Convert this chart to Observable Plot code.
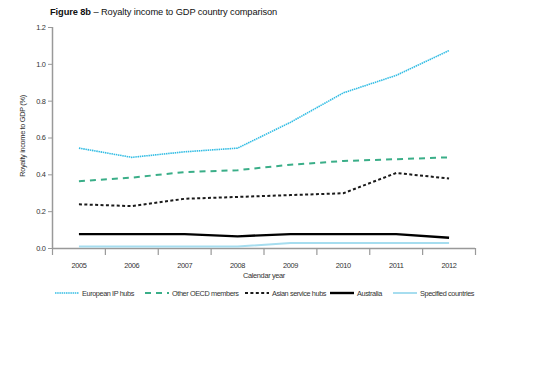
<!DOCTYPE html>
<html>
<head>
<meta charset="utf-8">
<script src="https://cdn.jsdelivr.net/npm/d3@7"></script>
<script src="https://cdn.jsdelivr.net/npm/@observablehq/plot@0.6"></script>
<style>
  body { margin: 0; background: #fff; font-family: "Liberation Sans", Arial, sans-serif; }
  #wrap { position: relative; width: 540px; height: 371px; }
  #title { position: absolute; left: 50px; top: 7px; font-family: "Liberation Sans", Arial, sans-serif; font-size: 9.3px; color: #111; white-space: nowrap; letter-spacing: -0.1px; }
  #chart { position: absolute; left: 0; top: 0; }
  #chart svg text { letter-spacing: -0.35px; }
  #legend { position: absolute; left: 0; top: 287px; width: 540px; height: 12px; font-size: 7.3px; color: #333; letter-spacing: -0.4px; }
  .item { position: absolute; top: 0; display: flex; align-items: center; height: 12px; white-space: nowrap; }
  .item svg { margin-right: 3px; }
</style>
</head>
<body>
<div id="wrap">
  <div id="title"><b>Figure 8b</b> – Royalty income to GDP country comparison</div>
  <div id="chart"></div>
  <div id="legend"></div>
</div>
<script>
const years = [2005, 2006, 2007, 2008, 2009, 2010, 2011, 2012];
const seriesNames = ["European IP hubs", "Other OECD members", "Asian service hubs", "Australia", "Specified countries"];
const europeanIPHubs   = [0.545, 0.495, 0.525, 0.545, 0.685, 0.845, 0.94, 1.075];
const otherOECD        = [0.365, 0.385, 0.415, 0.425, 0.455, 0.475, 0.485, 0.495];
const asianServiceHubs = [0.24, 0.23, 0.27, 0.28, 0.29, 0.30, 0.41, 0.38];
const australia        = [0.078, 0.078, 0.078, 0.066, 0.078, 0.078, 0.078, 0.058];
const specified        = [0.011, 0.011, 0.011, 0.011, 0.030, 0.030, 0.030, 0.030];
const yTicks = [0, 0.2, 0.4, 0.6, 0.8, 1.0, 1.2];
const xBoundaries = [2004.5, 2005.5, 2006.5, 2007.5, 2008.5, 2009.5, 2010.5, 2011.5, 2012.5];

const styles = {
  "European IP hubs":    {stroke: "#33bde4", width: 1.6, dash: "1.5,0.7"},
  "Other OECD members":  {stroke: "#3aae88", width: 2,   dash: "6,5"},
  "Asian service hubs":  {stroke: "#1a1a1a", width: 2,   dash: "3,2.4"},
  "Australia":           {stroke: "#000000", width: 2.4, dash: null},
  "Specified countries": {stroke: "#a6ddef", width: 2,   dash: null}
};

const allValues = [europeanIPHubs, otherOECD, asianServiceHubs, australia, specified];
const rows = (vals, name) => years.map((y, i) => ({year: y, value: vals[i], series: name}));

const lineMarks = seriesNames.map((name, k) => {
  const s = styles[name];
  return Plot.line(rows(allValues[k], name), {
    x: "year", y: "value", stroke: s.stroke, strokeWidth: s.width,
    strokeDasharray: s.dash || undefined, strokeLinecap: "butt", strokeLinejoin: "miter"
  });
});

const chart = Plot.plot({
  width: 540,
  height: 290,
  marginTop: 27,
  marginLeft: 52,
  marginRight: 65,
  marginBottom: 42,
  style: {fontFamily: "'Liberation Sans', Arial, sans-serif", fontSize: "7.4px", color: "#333", background: "transparent"},
  x: {domain: [2004.5, 2012.5]},
  y: {domain: [0, 1.2]},
  marks: [
    Plot.axisX(years, {tickSize: 0, tickPadding: 14, tickFormat: d => String(d), label: null, fill: "#333"}),
    Plot.axisX(xBoundaries, {tickSize: 7, tickFormat: () => "", label: null, stroke: "#999", strokeWidth: 1.2}),
    Plot.axisY(yTicks, {tickSize: 4, tickPadding: 3, tickFormat: d3.format(".1f"), label: null, stroke: "#999", strokeWidth: 1, fill: "#333"}),
    Plot.ruleY([0], {stroke: "#999", strokeWidth: 1.5}),
    Plot.ruleX([2004.5], {stroke: "#999", strokeWidth: 1.5}),
    ...lineMarks.slice().reverse(),
    Plot.text(["Calendar year"], {frameAnchor: "bottom", dy: 29, fill: "#333", fontSize: 7.4}),
    Plot.text(["Royalty income to GDP (%)"], {frameAnchor: "left", dx: -30, dy: -2, rotate: -90, textAnchor: "middle", fill: "#333", fontSize: 7.4})
  ]
});
document.getElementById("chart").appendChild(chart);

// Legend
const legendX = [55, 145, 245, 330, 393];
const legend = document.getElementById("legend");
seriesNames.forEach((name, i) => {
  const s = styles[name];
  const item = document.createElement("div");
  item.className = "item";
  item.style.left = legendX[i] + "px";
  const sw = d3.create("svg").attr("width", 24).attr("height", 6);
  sw.append("line").attr("x1", 0).attr("x2", 24).attr("y1", 3).attr("y2", 3)
    .attr("stroke", s.stroke).attr("stroke-width", s.width)
    .attr("stroke-dasharray", s.dash || null);
  item.appendChild(sw.node());
  const t = document.createElement("span");
  t.textContent = name;
  item.appendChild(t);
  legend.appendChild(item);
});
</script>
</body>
</html>
